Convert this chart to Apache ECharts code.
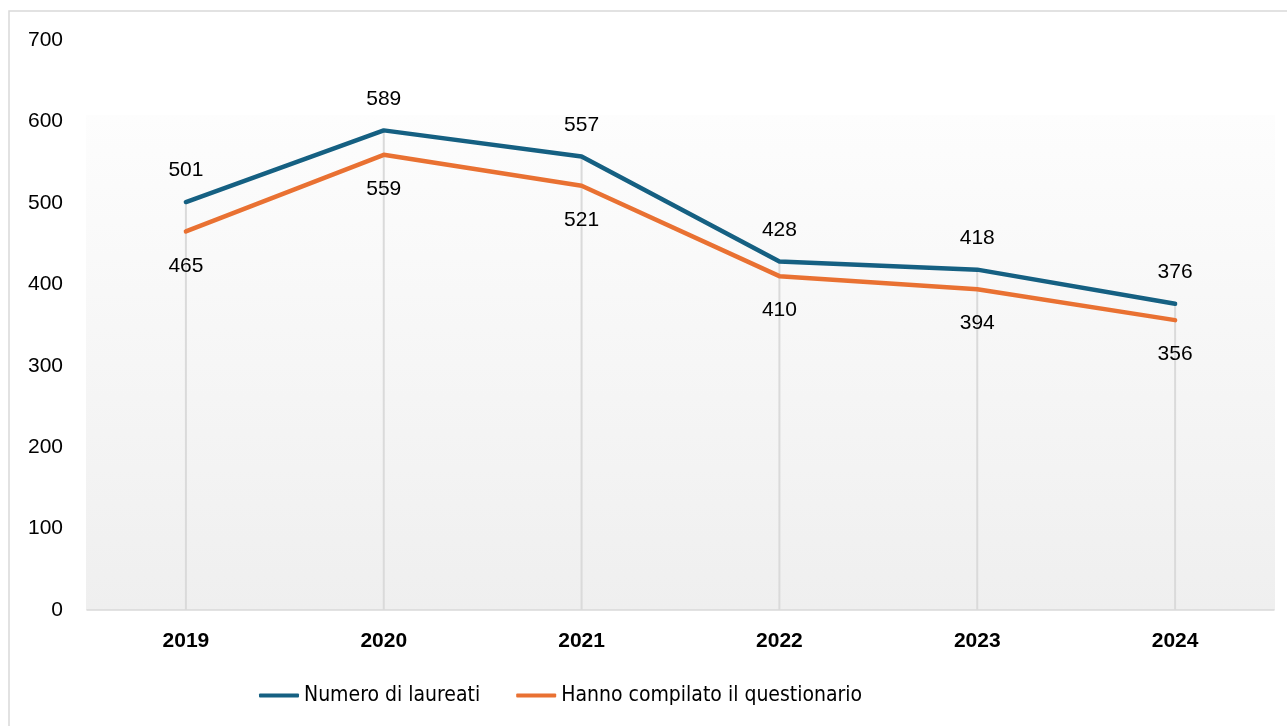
<!DOCTYPE html>
<html>
<head>
<meta charset="utf-8">
<script src="https://cdn.jsdelivr.net/npm/echarts@6/dist/echarts.min.js"></script>
<style>
  html, body { margin: 0; padding: 0; background: #ffffff; }
  #chart { width: 1287px; height: 726px; }
</style>
</head>
<body>
<div id="chart"></div>
<script>
// Years on the category axis
const years = ['2019', '2020', '2021', '2022', '2023', '2024'];
// Graduates per year
const laureati = [501, 589, 557, 428, 418, 376];
// Graduates who filled in the questionnaire
const compilato = [465, 559, 521, 410, 394, 356];
// Value axis ticks
const yTicks = [0, 100, 200, 300, 400, 500, 600, 700];

const seriesNames = ['Numero di laureati', 'Hanno compilato il questionario'];
const BLUE = '#156082';
const ORANGE = '#E97132';
const FONT = "'Liberation Sans', Arial, sans-serif";

// Drop lines run from the higher of the two points down to the axis
const dropHeights = years.map((_, i) => Math.max(laureati[i], compilato[i]));

const chart = echarts.init(document.getElementById('chart'), null, { renderer: 'canvas' });

chart.setOption({
  animation: false,
  backgroundColor: '#ffffff',
  graphic: [
    {
      type: 'rect',
      z: -10,
      shape: { x: 9, y: 11, width: 1300, height: 740 },
      style: { fill: '#ffffff', stroke: '#d9d9d9', lineWidth: 1.5 }
    },
    {
      type: 'rect',
      z: -9,
      shape: { x: 86, y: 115, width: 1189, height: 495 },
      style: {
        fill: new echarts.graphic.LinearGradient(0, 0, 0, 1, [
          { offset: 0, color: '#fdfdfd' },
          { offset: 1, color: '#efefef' }
        ])
      }
    }
  ],
  grid: { left: 87, right: 13, top: 40, bottom: 116 },
  legend: {
    data: seriesNames,
    left: 254,
    top: 680,
    itemWidth: 40,
    itemHeight: 4,
    itemGap: 36,
    icon: 'roundRect',
    textStyle: {
      fontFamily: "'Liberation Sans Narrow', 'DejaVu Sans Condensed', sans-serif",
      fontSize: 21,
      color: '#000000'
    }
  },
  xAxis: {
    type: 'category',
    data: years,
    boundaryGap: true,
    axisLine: { show: true, lineStyle: { color: '#d9d9d9', width: 1.5 } },
    axisTick: { show: false },
    splitLine: { show: false },
    axisLabel: {
      margin: 21,
      fontFamily: FONT,
      fontSize: 21,
      fontWeight: 'bold',
      color: '#000000'
    }
  },
  yAxis: {
    type: 'value',
    min: yTicks[0],
    max: yTicks[yTicks.length - 1],
    interval: yTicks[1] - yTicks[0],
    axisLine: { show: false },
    axisTick: { show: false },
    splitLine: { show: false },
    axisLabel: {
      margin: 24,
      fontFamily: FONT,
      fontSize: 21,
      color: '#000000'
    }
  },
  series: [
    {
      name: 'drop',
      type: 'bar',
      data: dropHeights,
      barWidth: 2,
      silent: true,
      z: 1,
      itemStyle: { color: '#dadada' }
    },
    {
      name: seriesNames[0],
      type: 'line',
      data: laureati,
      z: 3,
      symbol: 'circle',
      symbolSize: 0,
      showSymbol: true,
      lineStyle: { color: BLUE, width: 4.5, cap: 'round', join: 'round' },
      itemStyle: { color: BLUE },
      label: {
        show: true,
        position: 'top',
        distance: 21,
        fontFamily: FONT,
        fontSize: 21,
        color: '#000000'
      }
    },
    {
      name: seriesNames[1],
      type: 'line',
      data: compilato,
      z: 3,
      symbol: 'circle',
      symbolSize: 0,
      showSymbol: true,
      lineStyle: { color: ORANGE, width: 4.5, cap: 'round', join: 'round' },
      itemStyle: { color: ORANGE },
      label: {
        show: true,
        position: 'bottom',
        distance: 24,
        fontFamily: FONT,
        fontSize: 21,
        color: '#000000'
      }
    }
  ]
});
</script>
</body>
</html>
